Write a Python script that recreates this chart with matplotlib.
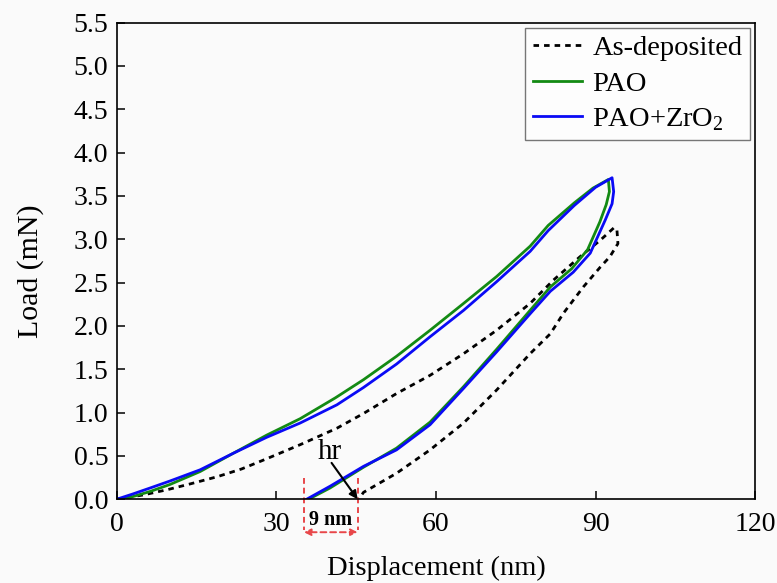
import matplotlib
matplotlib.use("Agg")
import matplotlib.pyplot as plt

plt.rcParams['font.family'] = ['Liberation Serif', 'DejaVu Serif']
plt.rcParams['mathtext.fontset'] = 'custom'
plt.rcParams['mathtext.rm'] = 'Liberation Serif'

# load-displacement curves (loading then unloading)
asdep_x = [0, 5, 9.5, 14, 18.9, 23.5, 28.3, 34.5, 41.4, 46.4, 52.6, 58.9, 65.2, 71.4,
           77.7, 82.1, 87.1, 90.9, 93.4, 94.0,
           94.2, 92.7, 90.9, 87.7, 84.0, 81.5, 77.7, 71.4, 65.2, 58.9, 52.6, 46.4, 45.5]
asdep_y = [0, 0.05, 0.11, 0.18, 0.26, 0.35, 0.47, 0.63, 0.82, 0.99, 1.22, 1.43, 1.68, 1.95,
           2.26, 2.53, 2.80, 2.99, 3.13, 3.12,
           2.95, 2.80, 2.68, 2.45, 2.15, 1.91, 1.68, 1.26, 0.88, 0.57, 0.30, 0.08, 0.0]

pao_x = [0, 3, 6.3, 10, 15.7, 21.9, 28.2, 34.5, 41.1, 46.4, 52.6, 58.9, 65.2, 71.4,
         77.7, 81.1, 86.0, 89.5, 92.4,
         92.6, 92.0, 90.8, 88.5, 85.5, 81.5, 77.7, 71.4, 65.2, 58.9, 52.6, 46.4, 40.1, 37.0, 36.2]
pao_y = [0, 0.03, 0.09, 0.17, 0.32, 0.53, 0.74, 0.93, 1.17, 1.38, 1.65, 1.95, 2.26, 2.57,
         2.92, 3.16, 3.42, 3.59, 3.69,
         3.55, 3.40, 3.20, 2.88, 2.66, 2.45, 2.18, 1.73, 1.30, 0.89, 0.59, 0.37, 0.13, 0.03, 0.0]

zro2_x = [0, 3, 6.3, 10, 15.7, 21.9, 28.2, 34.5, 41.4, 46.4, 52.6, 58.9, 65.2, 71.4,
          77.7, 81.1, 86.0, 90.0, 93.1,
          93.4, 93.1, 91.8, 89.0, 85.8, 81.5, 77.7, 71.4, 65.2, 58.9, 52.6, 46.4, 40.1, 35.7]
zro2_y = [0, 0.06, 0.13, 0.21, 0.34, 0.53, 0.715, 0.88, 1.09, 1.29, 1.56, 1.875, 2.18, 2.51,
          2.86, 3.10, 3.39, 3.60, 3.71,
          3.55, 3.41, 3.22, 2.84, 2.62, 2.40, 2.14, 1.70, 1.28, 0.86, 0.57, 0.38, 0.15, 0.0]

series_labels = ['As-deposited', 'PAO', r'PAO+ZrO$_\mathregular{2}$']

# residual depth markers
hr_left, hr_right = 35.2, 45.3

fig = plt.figure(figsize=(7.77, 5.83), dpi=100, facecolor='#fafafa')
ax = fig.add_axes([0.150, 0.1436, 0.822, 0.8176], facecolor='#fafafa')

ax.plot(asdep_x, asdep_y, color='black', lw=2.0, dashes=(2.0, 1.8), label=series_labels[0])
ax.plot(pao_x, pao_y, color='#138a13', lw=2.0, label=series_labels[1])
ax.plot(zro2_x, zro2_y, color='#0a0af5', lw=2.0, label=series_labels[2])

ax.set_xlim(0, 120)
ax.set_ylim(0, 5.5)
ax.set_xticks([0, 30, 60, 90, 120])
ax.set_yticks([i * 0.5 for i in range(12)])
ax.set_yticklabels(['%.1f' % (i * 0.5) for i in range(12)])
ax.tick_params(direction='in', length=6, width=1.1, labelsize=20)
ax.tick_params(axis='x', pad=9)
ax.tick_params(axis='y', pad=6)
for s in ax.spines.values():
    s.set_linewidth(1.2)

ax.set_xlabel('Displacement (nm)', fontsize=20.5, labelpad=14)
ax.set_ylabel('Load (mN)', fontsize=21.5)
ax.yaxis.set_label_coords(-0.113, 0.479)

leg = ax.legend(loc='upper right', fontsize=20.5, frameon=True, fancybox=False,
                borderaxespad=0.2, handlelength=1.75, handletextpad=0.35,
                labelspacing=0.33, borderpad=0.25)
leg.get_frame().set_edgecolor('#555555')
leg.get_frame().set_linewidth(1.0)
leg.get_frame().set_facecolor('white')

# hr annotation
ax.annotate('', xy=(45.3, 0.0), xytext=(40.4, 0.42),
            arrowprops=dict(arrowstyle='-|>', color='black', lw=1.5,
                            mutation_scale=12, shrinkA=0, shrinkB=0))
ax.text(40.1, 0.55, 'hr', fontsize=21, ha='center', va='center')

red = '#e8474a'
for xv in (hr_left, hr_right):
    ax.plot([xv, xv], [0.25, -0.36], color=red, lw=1.4, dashes=(3, 2), clip_on=False)
ax.annotate('', xy=(hr_left, -0.38), xytext=(hr_right, -0.38),
            arrowprops=dict(arrowstyle='<|-|>', color=red, lw=1.4, linestyle=(0, (3, 2)),
                            mutation_scale=10, shrinkA=0, shrinkB=0),
            annotation_clip=False)
ax.text((hr_left + hr_right) / 2, -0.24, '9 nm', fontsize=14.5, fontweight='bold',
        ha='center', va='center', clip_on=False)

fig.savefig('out.png', dpi=100, facecolor=fig.get_facecolor())
